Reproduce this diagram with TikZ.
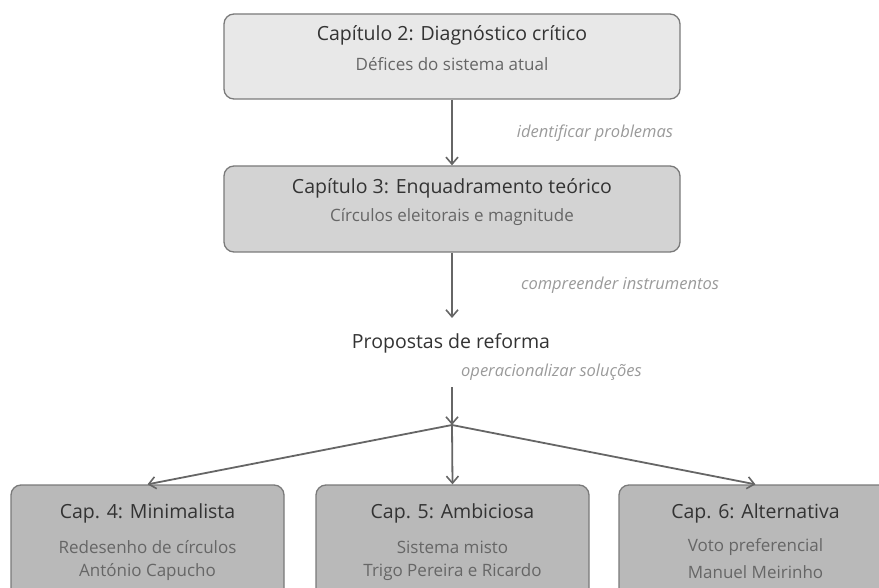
\documentclass[tikz,border=0pt]{standalone}
\usepackage{fontspec}
\setmainfont{Open Sans}
\usetikzlibrary{arrows.meta}
\definecolor{lnc}{HTML}{666666}
\definecolor{bdc}{HTML}{7A7A7A}
\definecolor{fa}{HTML}{E8E8E8}
\definecolor{fb}{HTML}{D3D3D3}
\definecolor{fc}{HTML}{B9B9B9}
\definecolor{titlec}{HTML}{333333}
\definecolor{subc}{HTML}{666666}
\definecolor{labc}{HTML}{9A9A9A}
\begin{document}
\begin{tikzpicture}[x=1pt,y=-1pt,
  box/.style={draw=bdc, line width=1.3pt, rounded corners=10pt, inner sep=0pt},
  arr/.style={draw=lnc, line width=1.8pt, -{Straight Barb[length=7pt,width=12pt,line width=1.6pt]}},
  ttl/.style={text=titlec, font=\fontsize{19.5}{22}\selectfont, inner sep=0pt},
  sub/.style={text=subc, font=\fontsize{17}{20}\selectfont, inner sep=0pt},
  lab/.style={text=labc, font=\itshape\fontsize{16.5}{19}\selectfont, inner sep=0pt}]
\useasboundingbox (0,0) rectangle (879,588);
\clip (0,0) rectangle (879,588);

% chapter 2
\node[box, fill=fa, minimum width=456pt, minimum height=85pt] (ch2) at (452,56.5) {};
\node[ttl] (ch2t) at (452,35) {Capítulo 2: Diagnóstico crítico};
\node[sub] (ch2s) at (452,64) {Défices do sistema atual};

% chapter 3
\node[box, fill=fb, minimum width=456pt, minimum height=86pt] (ch3) at (452,209) {};
\node[ttl] (ch3t) at (452,188) {Capítulo 3: Enquadramento teórico};
\node[sub] (ch3s) at (452,217) {Círculos eleitorais e magnitude};

% propostas
\node[ttl] (prop) at (451,343) {Propostas de reforma};
\coordinate (pin) at (452,318);
\coordinate (pout) at (452,387);
\coordinate (j) at (452,425);

% bottom boxes
\node[box, fill=fc, minimum width=273pt, minimum height=120pt] (c4) at (147.5,545) {};
\node[box, fill=fc, minimum width=273pt, minimum height=120pt] (c5) at (452.5,545) {};
\node[box, fill=fc, minimum width=273pt, minimum height=120pt] (c6) at (755.5,545) {};

\node[ttl] (c4t) at (147.5,513) {Cap. 4: Minimalista};
\node[sub] (c4a) at (147.5,547) {Redesenho de círculos};
\node[sub] (c4b) at (147.5,572) {António Capucho};

\node[ttl] (c5t) at (452.5,513) {Cap. 5: Ambiciosa};
\node[sub] (c5a) at (452.5,547) {Sistema misto};
\node[sub] (c5b) at (452.5,572) {Trigo Pereira e Ricardo};

\node[ttl] (c6t) at (755.5,513) {Cap. 6: Alternativa};
\node[sub] (c6a) at (755.5,547) {Voto preferencial};
\node[sub] (c6b) at (755.5,572) {Manuel Meirinho};

% arrows
\draw[arr] (ch2.south) -- (ch3.north);
\draw[arr] (ch3.south) -- (pin);
\draw[arr] (pout) -- (j);
\draw[arr] (j) -- (c4.north);
\draw[arr] (j) -- (c5.north);
\draw[arr] (j) -- (c6.north);

% labels
\node[lab] (l1) at (595,133) {identificar problemas};
\node[lab] (l2) at (620,285) {compreender instrumentos};
\node[lab] (l3) at (551.5,372) {operacionalizar soluções};
\end{tikzpicture}
\end{document}
